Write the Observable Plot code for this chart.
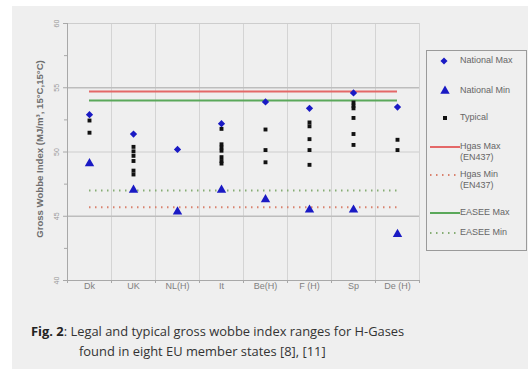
<!DOCTYPE html>
<html>
<head>
<meta charset="utf-8">
<script src="https://cdn.jsdelivr.net/npm/d3@7"></script>
<script src="https://cdn.jsdelivr.net/npm/@observablehq/plot@0.6"></script>
<style>
  html, body { margin: 0; padding: 0; background: #ffffff; }
  #page { position: relative; width: 528px; height: 369px; overflow: hidden; background: #fff; }
  #panel { position: absolute; left: 12px; top: 6px; width: 516px; height: 363px; background: #efefef; }
  #chart { position: absolute; left: 12px; top: 6px; }
  #legend { position: absolute; left: 426px; top: 50px; width: 101px; height: 201px; border: 1px solid #9a9a9a; box-sizing: border-box; }
  #legend svg { position: absolute; left: 0; top: 0; }
  .lg { position: absolute; left: 33px; font: 9px "Liberation Sans", Arial, sans-serif; color: #666; line-height: 11px; white-space: nowrap; }
  .cap { position: absolute; font: 12.9px "Open Sans", sans-serif; color: #333; line-height: 20px; white-space: nowrap; }
  .cap b { color: #222; }
</style>
</head>
<body>
<div id="page">
  <div id="panel"></div>
  <div id="chart"></div>
  <div id="legend"></div>
  <div class="cap" style="left:31px; top:321px"><b>Fig. 2</b>: Legal and typical gross wobbe index ranges for H-Gases</div>
  <div class="cap" style="left:79px; top:341px">found in eight EU member states [8], [11]</div>
</div>
<script>
// ---- data ----
const categories = ["Dk", "UK", "NL(H)", "It", "Be(H)", "F (H)", "Sp", "De (H)"];
const nationalMax = [52.9, 51.4, 50.2, 52.2, 53.9, 53.4, 54.6, 53.5];
const nationalMin = [49.1, 47.05, 45.35, 47.05, 46.3, 45.5, 45.5, 43.6];
const typicalValues = [
  [52.45, 51.5],
  [50.4, 50.05, 49.7, 49.3, 48.55, 48.25],
  [],
  [51.8, 50.6, 50.35, 50.1, 49.6, 49.3, 49.1],
  [51.75, 50.15, 49.2],
  [52.3, 52.0, 51.0, 50.15, 49.0],
  [53.85, 53.6, 53.4, 52.65, 51.4, 50.55],
  [50.95, 50.15]
];
const refNames = ["Hgas Max (EN437)", "Hgas Min (EN437)", "EASEE Max", "EASEE Min"];
const refValues = [54.7, 45.7, 54.0, 47.0];
const yMajorTicks = [40, 45, 50, 55, 60];
const yMinorTicks = [42.5, 47.5, 52.5, 57.5];
const yAxisTitle = "Gross Wobbe Index (MJ/m³, 15°C,15°C)";

// ---- derived tables ----
const pos = (c) => categories.indexOf(c) + 0.5;
const maxData = categories.map((c, i) => ({c, v: nationalMax[i]}));
const minData = categories.map((c, i) => ({c, v: nationalMin[i]}));
const typData = categories.flatMap((c, i) => typicalValues[i].map(v => ({c, v})));
const refStyle = {
  "Hgas Max (EN437)": {stroke: "#e46868", dash: null},
  "Hgas Min (EN437)": {stroke: "#d9826e", dash: "1.5,4.5"},
  "EASEE Max": {stroke: "#5aa85a", dash: null},
  "EASEE Min": {stroke: "#86ad74", dash: "1.5,4.5"}
};
const refData = refNames.map((n, i) => ({n, v: refValues[i], x1: 0.5, x2: categories.length - 0.5}));
const refMarks = refData.map(d => Plot.ruleY([d], {
  y: "v", x1: "x1", x2: "x2", stroke: refStyle[d.n].stroke, strokeWidth: 2,
  ...(refStyle[d.n].dash ? {strokeDasharray: refStyle[d.n].dash} : {})
}));

const blue = "#1a1ac4";

const chart = Plot.plot({
  width: 516,
  height: 300,
  marginLeft: 55,
  marginRight: 109,
  marginTop: 17,
  marginBottom: 26,
  style: {background: "transparent", fontFamily: "'Liberation Sans', Arial, sans-serif", overflow: "visible"},
  x: {domain: [0, categories.length], axis: null},
  y: {domain: [40, 60], axis: null},
  marks: [
    Plot.ruleX(d3.range(1, categories.length + 1), {y1: 40, y2: 60, stroke: "#d4d4d4", strokeWidth: 1}),
    Plot.ruleY([50, 60], {x1: 0, x2: categories.length, stroke: "#cdcdcd", strokeWidth: 1}),
    Plot.ruleY([45, 55], {x1: 0, x2: categories.length, stroke: "#bdbdbd", strokeWidth: 1.7}),
    Plot.ruleX([0], {y1: 40, y2: 60, stroke: "#a8a8a8"}),
    Plot.ruleY([40], {x1: 0, x2: categories.length, stroke: "#a8a8a8"}),
    Plot.axisY({ticks: yMajorTicks, tickSize: 4, tickFormat: () => "", stroke: "#a8a8a8", label: null}),
    Plot.axisY({ticks: yMinorTicks, tickSize: 3, tickFormat: () => "", stroke: "#a8a8a8", label: null}),
    Plot.text(yMajorTicks, {x: 0, y: d => d, text: d => String(d), rotate: -90, dx: -11, fill: "#999", fontSize: 7}),
    Plot.axisX({ticks: d3.range(0, categories.length + 1), tickSize: 3, tickFormat: () => "", stroke: "#a8a8a8", label: null}),
    Plot.axisX({ticks: categories.map((c, i) => i + 0.5), tickSize: 0, tickPadding: 2, tickFormat: d => categories[Math.round(d - 0.5)], fill: "#808080", fontSize: 9, label: null}),
    Plot.text([yAxisTitle], {frameAnchor: "left", textAnchor: "middle", rotate: -90, dx: -28, dy: -3, fill: "#6e6e6e", fontSize: 9.6, fontWeight: "bold"}),
    ...refMarks,
    Plot.dot(typData, {x: d => pos(d.c), y: "v", symbol: "square", r: 2.2, fill: "#111", stroke: "none"}),
    Plot.dot(maxData, {x: d => pos(d.c), y: "v", symbol: "square", rotate: 45, r: 2.9, fill: blue, stroke: "none"}),
    Plot.dot(minData, {x: d => pos(d.c), y: "v", symbol: "triangle", r: 3.5, fill: blue, stroke: "none"})
  ]
});
document.getElementById("chart").appendChild(chart);

// ---- legend ----
const legend = document.getElementById("legend");
const items = [
  {label: "National Max", kind: "diamond", y: 10},
  {label: "National Min", kind: "triangle", y: 40},
  {label: "Typical", kind: "square", y: 67},
  {label: "Hgas Max<br>(EN437)", kind: "line", ref: "Hgas Max (EN437)", y: 96},
  {label: "Hgas Min<br>(EN437)", kind: "line", ref: "Hgas Min (EN437)", y: 124},
  {label: "EASEE Max", kind: "line", ref: "EASEE Max", y: 162},
  {label: "EASEE Min", kind: "line", ref: "EASEE Min", y: 182}
];
const ns = "http://www.w3.org/2000/svg";
const svg = document.createElementNS(ns, "svg");
svg.setAttribute("width", 101); svg.setAttribute("height", 201);
items.forEach(it => {
  let el;
  if (it.kind === "diamond") {
    el = document.createElementNS(ns, "rect");
    el.setAttribute("x", -2.5); el.setAttribute("y", -2.5); el.setAttribute("width", 5); el.setAttribute("height", 5);
    el.setAttribute("transform", `translate(17,${it.y}) rotate(45)`);
    el.setAttribute("fill", blue);
  } else if (it.kind === "triangle") {
    el = document.createElementNS(ns, "path");
    el.setAttribute("d", d3.symbol(d3.symbolTriangle, Math.PI * 3.5 * 3.5)());
    el.setAttribute("transform", `translate(18,${it.y})`);
    el.setAttribute("fill", blue);
  } else if (it.kind === "square") {
    el = document.createElementNS(ns, "rect");
    el.setAttribute("x", 16); el.setAttribute("y", it.y - 2); el.setAttribute("width", 4); el.setAttribute("height", 4);
    el.setAttribute("fill", "#111");
  } else {
    el = document.createElementNS(ns, "line");
    el.setAttribute("x1", 3); el.setAttribute("x2", 33); el.setAttribute("y1", it.y); el.setAttribute("y2", it.y);
    el.setAttribute("stroke", refStyle[it.ref].stroke); el.setAttribute("stroke-width", 2);
    if (refStyle[it.ref].dash) el.setAttribute("stroke-dasharray", refStyle[it.ref].dash);
  }
  svg.appendChild(el);
  const t = document.createElement("div");
  t.className = "lg";
  t.innerHTML = it.label;
  t.style.top = (it.y - 6) + "px";
  legend.appendChild(t);
});
legend.appendChild(svg);
</script>
</body>
</html>
